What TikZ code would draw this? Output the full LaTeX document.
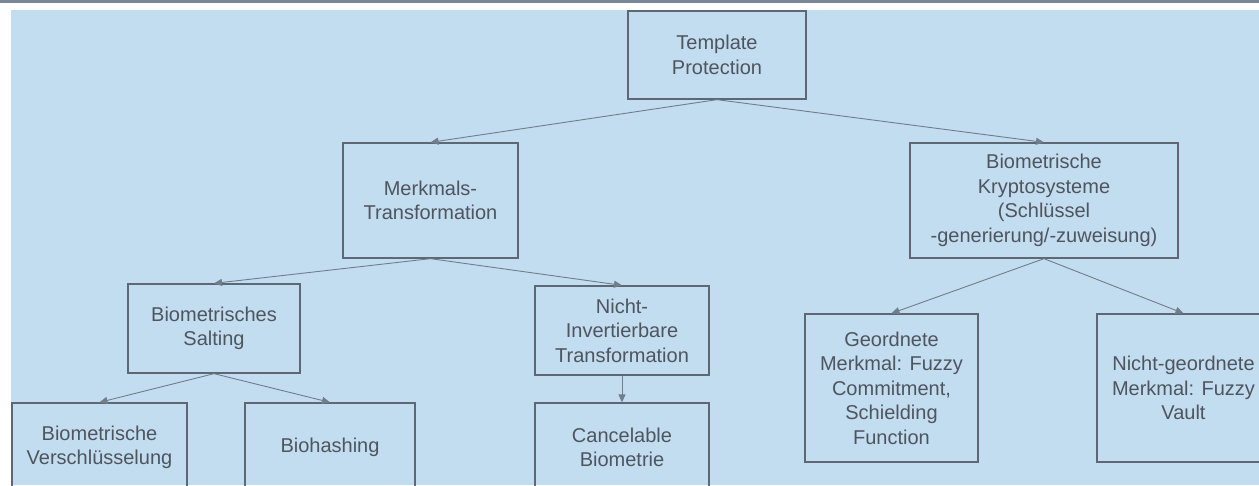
\documentclass[tikz,border=0pt]{standalone}
\usepackage{fontspec}
\setmainfont{Liberation Sans}
\usetikzlibrary{arrows.meta}
\definecolor{panelblue}{HTML}{C2DCF0}
\definecolor{topbar}{HTML}{7A8797}
\definecolor{boxline}{HTML}{5E6774}
\definecolor{boxtext}{HTML}{4F555E}
\definecolor{linkline}{HTML}{717D8B}
\tikzset{
  box/.style={draw=boxline, line width=1.3pt, text=boxtext, align=center,
    inner sep=0pt, font=\fontsize{20}{24.5}\selectfont},
  link/.style={draw=linkline, line width=0.9pt,
    -{Triangle[length=8pt,width=7pt]}, shorten >=0pt}
}
\begin{document}
\begin{tikzpicture}[x=1pt,y=-1pt]
\useasboundingbox (0,0) rectangle (1259,485);
% page frame
\fill[white] (0,0) rectangle (1259,485);
\fill[topbar] (0,0) rectangle (1259,2.5);
\fill[panelblue] (11,10) rectangle (1259,485);
\begin{scope}
\clip (0,0) rectangle (1259,485);
% tree nodes
\node[box, minimum width=178pt, minimum height=88pt] (tp) at (717,55) {Template\\Protection};
\node[box, minimum width=175pt, minimum height=115pt] (mt) at (430.5,200.5) {Merkmals-\\Transformation};
\node[box, minimum width=268pt, minimum height=115pt] (bk) at (1044,200.5) {Biometrische\\Kryptosysteme\\(Schlüssel\\-generierung/-zuweisung)};
\node[box, minimum width=172pt, minimum height=89pt] (bs) at (214,328.5) {Biometrisches\\Salting};
\node[box, minimum width=174pt, minimum height=89pt] (ni) at (622,330.5) {Nicht-\\Invertierbare\\Transformation};
\node[box, minimum width=175pt, minimum height=89pt] (bv) at (99.5,447.5) {Biometrische\\Verschlüsselung};
\node[box, minimum width=170pt, minimum height=89pt] (bh) at (330,447.5) {Biohashing};
\node[box, minimum width=174pt, minimum height=89pt] (cb) at (622,447.5) {Cancelable\\Biometrie};
\node[box, minimum width=173pt, minimum height=148pt] (gm) at (891.5,388) {Geordnete\\Merkmal: Fuzzy\\Commitment,\\Schielding\\Function};
\node[box, minimum width=173pt, minimum height=148pt] (ng) at (1183.5,388) {Nicht-geordnete\\Merkmal: Fuzzy\\Vault};
% connectors
\draw[link] (tp.south) -- (mt.north);
\draw[link] (tp.south) -- (bk.north);
\draw[link] (mt.south) -- (bs.north);
\draw[link] (mt.south) -- (ni.north);
\draw[link] (bs.south) -- (bv.north);
\draw[link] (bs.south) -- (bh.north);
\draw[link] (ni.south) -- (cb.north);
\draw[link] (bk.south) -- (gm.north);
\draw[link] (bk.south) -- (ng.north);
\end{scope}
\end{tikzpicture}
\end{document}
